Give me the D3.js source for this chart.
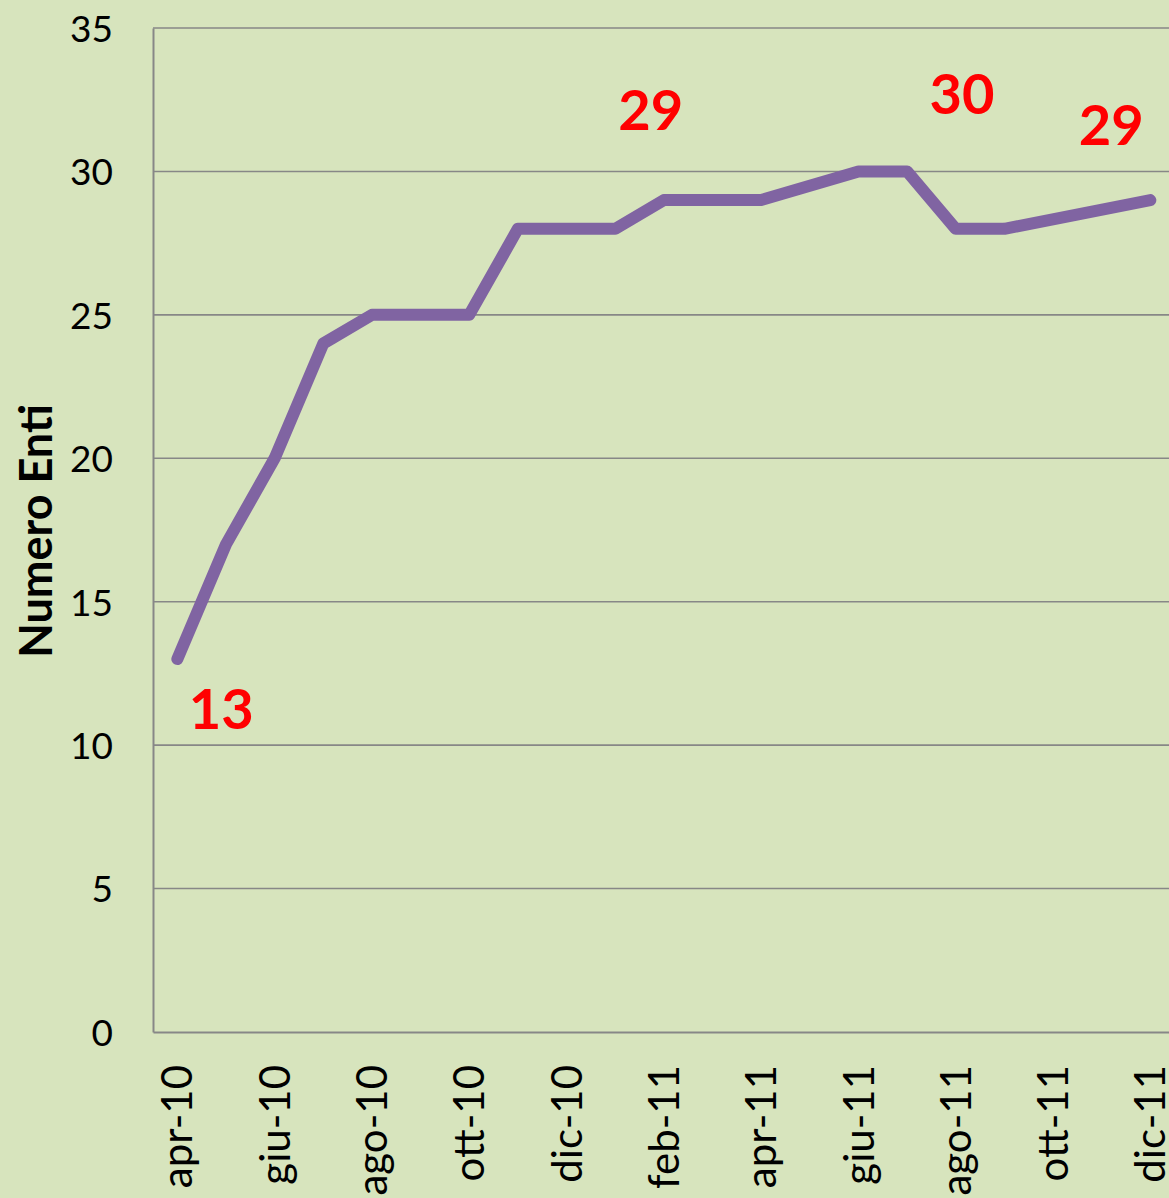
<!DOCTYPE html>
<html><head><meta charset="utf-8">
<script src="https://cdn.jsdelivr.net/npm/d3@7"></script>
<style>
html,body{margin:0;padding:0;background:#D7E4BD;}
svg{display:block;}
</style></head>
<body>
<svg id="chart" width="1169" height="1198"></svg>
<script>
const months = ["apr-10","mag-10","giu-10","lug-10","ago-10","set-10","ott-10","nov-10","dic-10","gen-11","feb-11","mar-11","apr-11","mag-11","giu-11","lug-11","ago-11","set-11","ott-11","nov-11","dic-11"];
const values = [13,17,20,24,25,25,25,28,28,28,29,29,29,null,30,30,28,28,null,null,29];
const yTicks = [0,5,10,15,20,25,30,35];
const xTickLabels = ["apr-10","giu-10","ago-10","ott-10","dic-10","feb-11","apr-11","giu-11","ago-11","ott-11","dic-11"];
const dataLabels = [
  {month:"apr-10", text:"13"},
  {month:"feb-11", text:"29"},
  {month:"lug-11", text:"30"},
  {month:"dic-11", text:"29"}
];
const yTitle = "Numero Enti";

(function(){
const svg = d3.select("#chart");
const mLeft = 153, mTop = 28, mBottom = 1032;
const band = 48.65;
const mRight = mLeft + band * months.length;

const x = d3.scaleBand().domain(months).range([mLeft, mRight]);
const y = d3.scaleLinear().domain([0,35]).range([mBottom, mTop]);
const cx = m => x(m) + x.bandwidth()/2;

svg.append("rect").attr("width",1169).attr("height",1198).attr("fill","#D7E4BD");

// gridlines
svg.append("g").selectAll("line").data(yTicks.filter(d=>d>0)).join("line")
  .attr("x1",mLeft).attr("x2",mRight)
  .attr("y1",d=>y(d)).attr("y2",d=>y(d))
  .attr("stroke","#878787").attr("stroke-width",1.6);

// y axis
const yAxis = d3.axisLeft(y).tickValues(yTicks).tickSize(0).tickPadding(40);
const gy = svg.append("g").attr("transform",`translate(${mLeft},0)`).call(yAxis);
gy.select(".domain").attr("stroke","#878787").attr("stroke-width",2);
gy.selectAll("text").attr("font-family","Lato, 'Open Sans', sans-serif").attr("font-size",37).attr("fill","#000").attr("dy","0.36em");

// x axis
const xAxis = d3.axisBottom(x).tickValues(xTickLabels).tickSize(0).tickPadding(0);
const gx = svg.append("g").attr("transform",`translate(0,${mBottom})`).call(xAxis);
gx.select(".domain").attr("stroke","#878787").attr("stroke-width",2);
gx.selectAll("text")
  .attr("font-family","Lato, 'Open Sans', sans-serif").attr("font-size",42).attr("fill","#000")
  .attr("text-anchor","end")
  .attr("transform","translate(0,33) rotate(-90)")
  .attr("x",0).attr("y",0).attr("dy","0.36em");

// y title
svg.append("text")
  .attr("transform","translate(36,531) rotate(-90)")
  .attr("text-anchor","middle").attr("dy","0.36em")
  .attr("font-family","Lato, 'Open Sans', sans-serif").attr("font-weight","bold")
  .attr("font-size",45).attr("fill","#000").text(yTitle);

// line
const pts = months.map((m,i)=>({m, v:values[i]})).filter(d=>d.v!==null);
const line = d3.line().x(d=>cx(d.m)).y(d=>y(d.v));
svg.append("path").datum(pts).attr("d",line)
  .attr("fill","none").attr("stroke","#8064A2").attr("stroke-width",12)
  .attr("stroke-linejoin","round").attr("stroke-linecap","round");

// data labels
const offsets = {"apr-10":[44,70],"feb-11":[-13,-70],"lug-11":[55,-57],"dic-11":[-39,-55]};
svg.append("g").selectAll("text").data(dataLabels).join("text")
  .attr("x",d=>cx(d.month)+offsets[d.month][0])
  .attr("y",d=>y(values[months.indexOf(d.month)])+offsets[d.month][1])
  .attr("text-anchor","middle")
  .attr("font-family","Lato, 'Open Sans', sans-serif").attr("font-weight","bold")
  .attr("font-size",56).attr("fill","#FF0000").text(d=>d.text);
})();
</script>
</body></html>
